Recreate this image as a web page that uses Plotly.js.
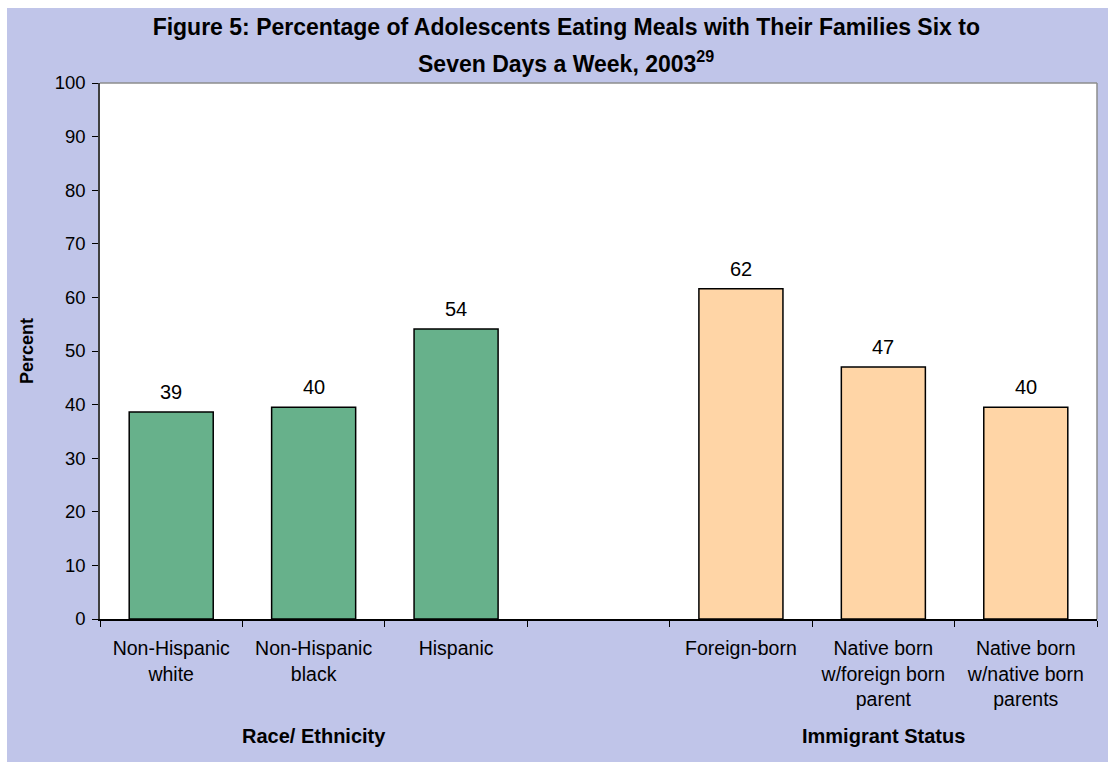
<!DOCTYPE html>
<html>
<head>
<meta charset="utf-8">
<script src="https://cdn.plot.ly/plotly-3.0.1.min.js"></script>
<style>
  html, body { margin: 0; padding: 0; background: #ffffff; width: 1108px; height: 762px; overflow: hidden; }
  #chart { position: absolute; left: 7px; top: 8px; width: 1101px; height: 754px; }
</style>
</head>
<body>
<div id="chart"></div>
<script>
// ---- data ----
const raceCategories = ["Non-Hispanic<br>white", "Non-Hispanic<br>black", "Hispanic"];
const raceValues = [38.6, 39.5, 54.1];
const gapCategory = [" "];
const immigrantCategories = ["Foreign-born", "Native born<br>w/foreign born<br>parent", "Native born<br>w/native born<br>parents"];
const immigrantValues = [61.6, 47.0, 39.5];
const groupLabels = ["Race/ Ethnicity", "Immigrant Status"];
const yTicks = [0, 10, 20, 30, 40, 50, 60, 70, 80, 90, 100];
const titleLine1 = "Figure 5: Percentage of Adolescents Eating Meals with Their Families Six to";
const titleLine2 = "Seven Days a Week, 2003<sup>29</sup>";

// ---- styles ----
const FONT = "Liberation Sans, Arial, sans-serif";
const LAVENDER = "#C0C5E9";
const GREEN = "#67B18B";
const PEACH = "#FFD5A6";

const allCategories = raceCategories.concat(gapCategory, immigrantCategories);

const traces = [
  {
    type: "bar", x: raceCategories, y: raceValues, width: 0.59,
    marker: { color: GREEN, line: { color: "#000000", width: 1.5 } },
    hoverinfo: "x+y", showlegend: false
  },
  {
    type: "bar", x: immigrantCategories, y: immigrantValues, width: 0.59,
    marker: { color: PEACH, line: { color: "#000000", width: 1.5 } },
    hoverinfo: "x+y", showlegend: false
  }
];

const annotations = [];
raceCategories.forEach((c, i) => annotations.push({
  x: c, y: raceValues[i], xref: "x", yref: "y", text: String(Math.round(raceValues[i])),
  showarrow: false, yanchor: "bottom", yshift: 7, font: { family: FONT, size: 20, color: "#000" }
}));
immigrantCategories.forEach((c, i) => annotations.push({
  x: c, y: immigrantValues[i], xref: "x", yref: "y", text: String(Math.round(immigrantValues[i])),
  showarrow: false, yanchor: "bottom", yshift: 7, font: { family: FONT, size: 20, color: "#000" }
}));
annotations.push({
  x: raceCategories[1], y: -0.218, xref: "x", yref: "paper", text: "<b>" + groupLabels[0] + "</b>",
  showarrow: false, yanchor: "middle", font: { family: FONT, size: 20, color: "#000" }
});
annotations.push({
  x: immigrantCategories[1], y: -0.218, xref: "x", yref: "paper", text: "<b>" + groupLabels[1] + "</b>",
  showarrow: false, yanchor: "middle", font: { family: FONT, size: 20, color: "#000" }
});
annotations.push({
  x: 0.467, y: (611 - 54) / 536, xref: "paper", yref: "paper", text: "<b>" + titleLine2 + "</b>",
  showarrow: false, xanchor: "center", yanchor: "middle", font: { family: FONT, size: 23, color: "#000" }
});

const layout = {
  width: 1101, height: 754,
  paper_bgcolor: LAVENDER, plot_bgcolor: "#ffffff",
  margin: { l: 93, r: 11, t: 75, b: 143, pad: 0 },
  barmode: "overlay",
  font: { family: FONT, size: 18, color: "#000000" },
  title: {
    text: "<b>" + titleLine1 + "</b>",
    x: 0.508, xref: "container", xanchor: "center",
    y: 1 - 19 / 754, yref: "container", yanchor: "middle",
    font: { family: FONT, size: 23, color: "#000" }
  },
  xaxis: {
    type: "category", categoryorder: "array", categoryarray: allCategories,
    range: [-0.5, 6.5],
    showline: true, linecolor: "#000000", linewidth: 1.5,
    ticks: "outside", ticklen: 6, tickcolor: "#000000", tickwidth: 1, tickson: "boundaries",
    ticklabelstandoff: 11,
    showgrid: false, zeroline: false,
    tickfont: { family: FONT, size: 19.5, color: "#000" },
    automargin: false
  },
  yaxis: {
    range: [0, 100], tickvals: yTicks,
    showline: true, linecolor: "#404040", linewidth: 1.5,
    ticks: "outside", ticklen: 6, tickcolor: "#000000", tickwidth: 1,
    ticklabelstandoff: 3,
    showgrid: false, zeroline: false,
    tickfont: { family: FONT, size: 18.5, color: "#000" },
    title: { text: "<b>Percent</b>", standoff: 16, font: { family: FONT, size: 18, color: "#000" } },
    automargin: false
  },
  shapes: [
    { type: "line", xref: "paper", yref: "paper", x0: 0, x1: 1, y0: 1, y1: 1, line: { color: "#8C8C8C", width: 1.5 } },
    { type: "line", xref: "paper", yref: "paper", x0: 1, x1: 1, y0: 0, y1: 1, line: { color: "#8C8C8C", width: 1.5 } }
  ],
  annotations: annotations
};

Plotly.newPlot("chart", traces, layout, { displayModeBar: false });
</script>
</body>
</html>
